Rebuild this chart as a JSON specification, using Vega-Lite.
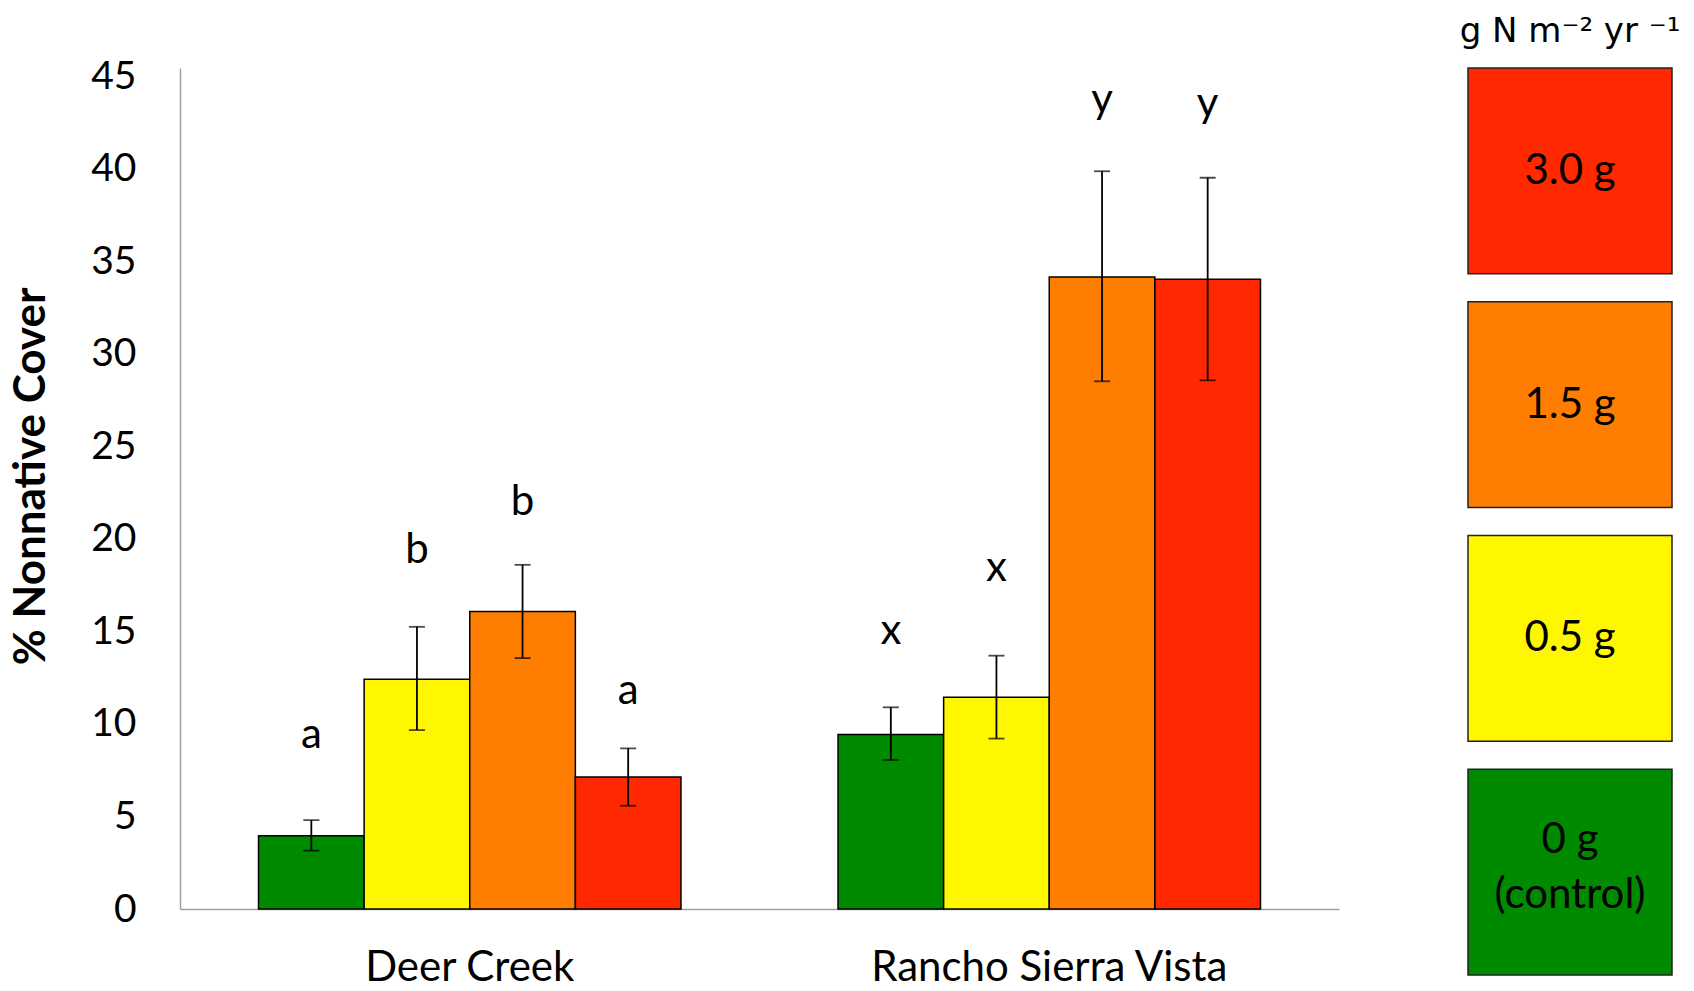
{
  "$schema": "https://vega.github.io/schema/vega-lite/v6.json",
  "background": "white",
  "padding": {"left": 9, "top": 15, "right": 0, "bottom": 0},
  "datasets": {
    "bars": [
      {"site": "Deer Creek", "trt": "0 g (control)", "mean": 3.96, "lo": 3.15, "hi": 4.8, "letter": "a", "lpos": 8.7},
      {"site": "Deer Creek", "trt": "0.5 g", "mean": 12.42, "lo": 9.67, "hi": 15.25, "letter": "b", "lpos": 18.7},
      {"site": "Deer Creek", "trt": "1.5 g", "mean": 16.08, "lo": 13.56, "hi": 18.6, "letter": "b", "lpos": 21.3},
      {"site": "Deer Creek", "trt": "3.0 g", "mean": 7.14, "lo": 5.58, "hi": 8.68, "letter": "a", "lpos": 11.1},
      {"site": "Rancho Sierra Vista", "trt": "0 g (control)", "mean": 9.43, "lo": 8.05, "hi": 10.9, "letter": "x", "lpos": 14.3},
      {"site": "Rancho Sierra Vista", "trt": "0.5 g", "mean": 11.44, "lo": 9.21, "hi": 13.69, "letter": "x", "lpos": 17.7},
      {"site": "Rancho Sierra Vista", "trt": "1.5 g", "mean": 34.15, "lo": 28.52, "hi": 39.87, "letter": "y", "lpos": 43.0},
      {"site": "Rancho Sierra Vista", "trt": "3.0 g", "mean": 34.03, "lo": 28.57, "hi": 39.52, "letter": "y", "lpos": 42.8}
    ],
    "legend": [
      {"trt": "3.0 g", "label": "3.0 g"},
      {"trt": "1.5 g", "label": "1.5 g"},
      {"trt": "0.5 g", "label": "0.5 g"},
      {"trt": "0 g (control)", "label": "0 g\n(control)"}
    ]
  },
  "config": {
    "view": {"stroke": null},
    "font": "Lato",
    "concat": {"spacing": 129}
  },
  "bounds": "flush",
  "hconcat": [
    {
      "width": 1159,
      "height": 841,
      "data": {"name": "bars"},
      "encoding": {
        "x": {
          "field": "site", "type": "nominal",
          "sort": ["Deer Creek", "Rancho Sierra Vista"],
          "scale": {"paddingInner": 0.271, "paddingOuter": 0.1355},
          "axis": {
            "title": null, "labelAngle": 0, "ticks": false, "tickSize": 0, "labelLimit": 0,
            "labelFont": "Lato", "labelFontSize": 42, "labelColor": "black",
            "labelPadding": 38, "domainColor": "#a0a0a0", "domainWidth": 1.5
          }
        },
        "xOffset": {
          "field": "trt", "type": "nominal",
          "sort": ["0 g (control)", "0.5 g", "1.5 g", "3.0 g"],
          "scale": {"paddingInner": 0, "paddingOuter": 0}
        }
      },
      "layer": [
        {
          "mark": {"type": "bar", "stroke": "black", "strokeWidth": 1.5},
          "encoding": {
            "y": {
              "field": "mean", "type": "quantitative",
              "scale": {"domain": [0, 45.45], "nice": false, "zero": true},
              "axis": {
                "title": "% Nonnative Cover", "values": [0, 5, 10, 15, 20, 25, 30, 35, 40, 45],
                "grid": false, "ticks": false, "tickSize": 0,
                "labelFont": "Lato", "labelFontSize": 39, "labelColor": "black", "labelPadding": 44,
                "domainColor": "#a0a0a0", "domainWidth": 1.5,
                "titleFont": "Lato", "titleFontSize": 44, "titleFontWeight": "bold", "titleColor": "black",
                "titlePadding": 37, "titleY": 408
              }
            },
            "color": {
              "field": "trt", "type": "nominal",
              "scale": {
                "domain": ["0 g (control)", "0.5 g", "1.5 g", "3.0 g"],
                "range": ["#008a00", "#fff700", "#ff7d00", "#ff2800"]
              },
              "legend": null
            }
          }
        },
        {
          "mark": {"type": "rule", "color": "black", "strokeWidth": 1.8},
          "encoding": {
            "y": {"field": "lo", "type": "quantitative"},
            "y2": {"field": "hi"}
          }
        },
        {
          "mark": {"type": "tick", "color": "black", "thickness": 1.8, "size": 16, "orient": "horizontal"},
          "encoding": {"y": {"field": "lo", "type": "quantitative"}}
        },
        {
          "mark": {"type": "tick", "color": "black", "thickness": 1.8, "size": 16, "orient": "horizontal"},
          "encoding": {"y": {"field": "hi", "type": "quantitative"}}
        },
        {
          "mark": {"type": "text", "font": "Lato", "fontSize": 42, "color": "black", "align": "center", "baseline": "alphabetic"},
          "encoding": {
            "y": {"field": "lpos", "type": "quantitative"},
            "text": {"field": "letter"}
          }
        }
      ]
    },
    {
      "width": 204,
      "height": 907,
      "data": {"name": "legend"},
      "title": {
        "text": "g N m⁻² yr ⁻¹", "font": "DejaVu Sans", "fontSize": 34, "fontWeight": "normal",
        "color": "black", "anchor": "middle", "offset": 18
      },
      "encoding": {
        "y": {
          "field": "trt", "type": "nominal",
          "sort": ["3.0 g", "1.5 g", "0.5 g", "0 g (control)"],
          "scale": {"paddingInner": 0.12, "paddingOuter": 0},
          "axis": null
        }
      },
      "layer": [
        {
          "mark": {"type": "rect", "stroke": "#222222", "strokeWidth": 1.5},
          "encoding": {
            "x": {"datum": 0, "type": "quantitative", "scale": {"domain": [0, 1]}, "axis": null},
            "x2": {"datum": 1},
            "color": {
              "field": "trt", "type": "nominal",
              "scale": {
                "domain": ["0 g (control)", "0.5 g", "1.5 g", "3.0 g"],
                "range": ["#008a00", "#fff700", "#ff7d00", "#ff2800"]
              },
              "legend": null
            }
          }
        },
        {
          "transform": [{"filter": "datum.trt !== '0 g (control)'"}],
          "mark": {"type": "text", "font": "Lato", "fontSize": 42, "color": "black", "align": "center", "baseline": "middle"},
          "encoding": {
            "x": {"datum": 0.5, "type": "quantitative"},
            "text": {"field": "label"}
          }
        },
        {
          "transform": [{"filter": "datum.trt === '0 g (control)'"}],
          "mark": {"type": "text", "font": "Lato", "fontSize": 42, "color": "black", "align": "center", "baseline": "middle", "lineBreak": "\n", "lineHeight": 55, "dy": -32},
          "encoding": {
            "x": {"datum": 0.5, "type": "quantitative"},
            "text": {"field": "label"}
          }
        }
      ]
    }
  ]
}
